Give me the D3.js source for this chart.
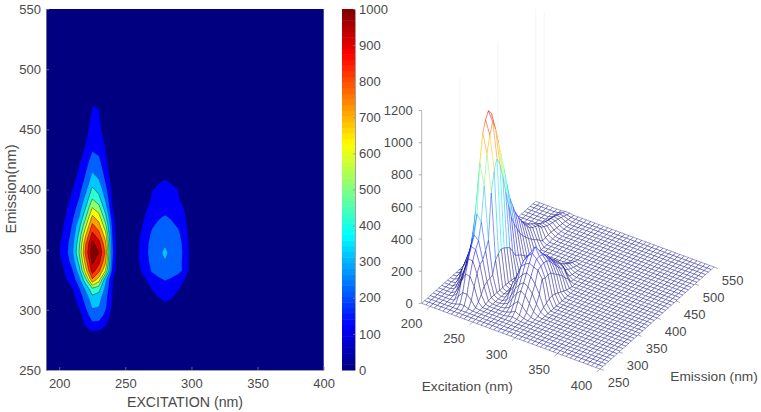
<!DOCTYPE html>
<html>
<head>
<meta charset="utf-8">
<title>Excitation-emission matrix</title>
<script src="https://cdn.jsdelivr.net/npm/d3@7/dist/d3.min.js"></script>
<style>
html,body{margin:0;padding:0;background:#fff;}
svg{display:block;}
text{font-family:"Liberation Sans",Arial,sans-serif;fill:#4a4a4a;}
</style>
</head>
<body>
<svg id="chart" width="761" height="412"></svg>
<script>
// Measurement grid: excitation every 5 nm, emission every 7.5 nm.
const excitation = d3.range(190, 400.1, 5);
const emission = d3.range(250, 550.1, 7.5);

// Tick labels and contour levels.
const excitationTicks = [200, 250, 300, 350, 400];
const emissionTicks = [250, 300, 350, 400, 450, 500, 550];
const colorbarTicks = [0, 100, 200, 300, 400, 500, 600, 700, 800, 900, 1000];
const heightTicks = [0, 200, 400, 600, 800, 1000, 1200];
const contourLevels = [100, 200, 300, 400, 500, 600, 700, 800, 900, 1000];

// Fluorescence intensity where the sample responds; the rest of the grid reads zero.
const blockExcitationStart = 195;
const blockEmissionStart = 272.5;
const intensityBlock = [
  [0,0,0,0,0,5,15,15,5,0,0, 0,0,0,0,0,0,0,0,0,0,0,0],
  [0,0,0,0,5,40,70,70,40,5,0, 0,0,0,0,0,0,0,0,0,0,0,0],
  [0,0,0,5,30,115,170,165,110,25,0, 0,0,0,0,0,5,10,5,0,0,0,0],
  [0,0,0,15,65,150,250,245,175,55,5, 0,0,0,0,5,15,30,15,5,0,0,0],
  [0,0,10,40,110,205,310,300,215,90,10, 0,0,0,5,20,50,75,55,25,5,0,0],
  [0,0,20,70,150,240,365,340,230,105,15, 0,0,5,20,60,100,125,105,65,25,5,0],
  [0,5,50,100,190,320,480,440,270,110,15, 0,0,15,50,105,140,160,145,110,55,15,0],
  [0,15,95,150,260,470,780,650,320,115,15, 0,5,50,95,150,185,205,190,155,100,30,0],
  [5,45,120,195,350,660,950,830,600,190,12, 0,10,85,135,210,235,250,235,225,180,40,0],
  [10,75,150,240,430,750,1020,930,720,215,12, 0,15,95,160,230,270,295,270,235,170,50,0],
  [15,95,170,280,500,830,1060,1000,780,230,15, 0,15,100,170,240,275,320,270,240,175,55,0],
  [12,90,160,265,470,790,1030,940,730,220,12, 0,15,95,165,235,270,290,265,235,170,50,0],
  [8,75,140,235,420,690,930,840,640,205,10, 0,10,85,150,215,245,255,245,220,150,40,0],
  [5,60,125,210,360,580,825,740,530,190,8, 0,5,70,125,190,215,225,215,190,130,30,0],
  [0,40,105,180,290,480,715,640,430,150,5, 0,0,50,105,165,190,205,190,165,110,20,0],
  [0,20,85,150,240,400,600,530,340,110,0, 0,0,30,80,135,160,172,160,135,90,10,0],
  [0,5,65,125,200,330,495,430,280,95,0, 0,0,10,50,110,135,148,135,110,60,5,0],
  [0,0,40,100,170,270,420,365,235,80,0, 0,0,0,35,95,115,125,115,98,40,0,0],
  [0,0,15,70,140,225,345,305,190,60,0, 0,0,0,5,45,90,103,90,45,5,0,0],
  [0,0,5,45,115,195,295,265,160,40,0, 0,0,0,0,15,45,75,45,15,0,0,0],
  [0,0,0,20,90,165,245,225,135,25,0, 0,0,0,0,8,30,55,30,8,0,0,0],
  [0,0,0,5,60,130,208,190,110,15,0, 0,0,0,0,5,20,40,20,5,0,0,0],
  [0,0,0,0,40,105,175,160,90,5,0, 0,0,0,0,0,12,25,12,0,0,0,0],
  [0,0,0,0,20,80,150,135,70,0,0, 0,0,0,0,0,5,15,5,0,0,0,0],
  [0,0,0,0,5,70,130,120,55,0,0, 0,0,0,0,0,0,8,0,0,0,0,0],
  [0,0,0,0,0,55,118,112,35,0,0, 0,0,0,0,0,0,0,0,0,0,0,0],
  [0,0,0,0,0,30,104,100,15,0,0, 0,0,0,0,0,0,0,0,0,0,0,0],
  [0,0,0,0,5,25,85,75,20,0,0, 0,0,0,0,0,0,0,0,0,0,0,0],
  [0,0,0,0,5,25,70,62,22,5,0, 0,0,0,0,0,0,0,0,0,0,0,0],
  [0,0,0,0,5,22,60,52,22,5,0, 0,0,0,0,0,0,0,0,0,0,0,0],
  [0,0,0,0,5,20,52,45,20,5,0, 0,0,0,0,0,0,0,0,0,0,0,0],
  [0,0,0,0,3,18,45,40,18,4,0, 0,0,0,0,0,0,0,0,0,0,0,0],
  [0,0,0,0,2,15,40,35,15,3,0, 0,0,0,0,0,0,0,0,0,0,0,0],
  [0,0,0,0,0,12,35,30,12,2,0, 0,0,0,0,0,0,0,0,0,0,0,0],
  [0,0,0,0,0,10,28,24,10,0,0, 0,0,0,0,0,0,0,0,0,0,0,0],
  [0,0,0,0,0,6,20,16,6,0,0, 0,0,0,0,0,0,0,0,0,0,0,0],
  [0,0,0,0,0,3,12,9,3,0,0, 0,0,0,0,0,0,0,0,0,0,0,0],
  [0,0,0,0,0,0,5,4,0,0,0, 0,0,0,0,0,0,0,0,0,0,0,0]
];

// Look up one grid node, falling back to zero outside the responding block.
function intensityAt(ex, em) {
  const row = intensityBlock[Math.round((em - blockEmissionStart) / 7.5)];
  if (!row) return 0;
  const v = row[Math.round((ex - blockExcitationStart) / 5)];
  return v === undefined ? 0 : v;
}

// MATLAB-style jet colormap, t in [0,1].
function jet(t) {
  t = Math.max(0, Math.min(1, t));
  const ramp = c => Math.round(255 * Math.max(0, Math.min(1, 1.5 - Math.abs(4 * t - c))));
  return `rgb(${ramp(3)},${ramp(2)},${ramp(1)})`;
}

const svg = d3.select("#chart");
const tickColor = "#8a8a8a";

/* ---------- Filled contour map ---------- */
const x = d3.scaleLinear().domain([190, 400]).range([46, 323.7]);
const y = d3.scaleLinear().domain([250, 550]).range([370, 9]);
const map = svg.append("g");

map.append("rect")
  .attr("x", x(190)).attr("y", y(550))
  .attr("width", x(400) - x(190)).attr("height", y(250) - y(550))
  .attr("fill", jet(0));

const flat = [];
emission.forEach(em => excitation.forEach(ex => flat.push(intensityAt(ex, em))));
const contours = d3.contours().size([excitation.length, emission.length]).thresholds(contourLevels)(flat);

// d3.contours places node i at i + 0.5; convert back to nm, then to pixels.
const contourPath = d3.geoPath(d3.geoTransform({
  point(gx, gy) {
    this.stream.point(x(190 + (gx - 0.5) * 5), y(250 + (gy - 0.5) * 7.5));
  }
}));
map.selectAll("path.level").data(contours).join("path")
  .attr("class", "level")
  .attr("d", contourPath)
  .attr("fill", d => jet((d.value + 20) / 1000))
  .attr("stroke", "#000")
  .attr("stroke-opacity", d => d.value >= 400 ? 0.65 : 0.2)
  .attr("stroke-width", 0.6);

function styleAxis(g) {
  g.selectAll(".domain").attr("stroke", tickColor).attr("stroke-width", 0.8);
  g.selectAll(".tick line").attr("stroke", tickColor).attr("stroke-width", 0.7);
  g.selectAll("text").attr("font-size", 13).style("font-family", '"Liberation Sans",Arial,sans-serif').attr("fill", "#4a4a4a");
}
map.append("g").attr("transform", `translate(0,${y(250)})`)
  .call(d3.axisBottom(x).tickValues(excitationTicks).tickSizeInner(-3).tickSizeOuter(0).tickPadding(9))
  .call(styleAxis);
map.append("g").attr("transform", `translate(${x(190)},0)`)
  .call(d3.axisLeft(y).tickValues(emissionTicks).tickSizeInner(-3).tickSizeOuter(0).tickPadding(5))
  .call(styleAxis);
map.append("text").attr("x", 185).attr("y", 406.5).attr("text-anchor", "middle")
  .attr("font-size", 14.2).text("EXCITATION (nm)");
map.append("text").attr("transform", "translate(15.5,189) rotate(-90)").attr("text-anchor", "middle")
  .attr("font-size", 14.6).text("Emission(nm)");

/* ---------- Colorbar ---------- */
const barScale = d3.scaleLinear().domain([0, 1000]).range([370, 9]);
const barSteps = d3.range(0, 1000, 1000 / 64);
const bar = svg.append("g");
bar.selectAll("rect").data(barSteps).join("rect")
  .attr("x", 342).attr("width", 13)
  .attr("y", d => barScale(d + 1000 / 64))
  .attr("height", d => barScale(d) - barScale(d + 1000 / 64) + 0.5)
  .attr("fill", d => jet(d / 1000 + 1 / 128));
bar.append("g").attr("transform", "translate(355,0)")
  .call(d3.axisRight(barScale).tickValues(colorbarTicks).tickFormat(d3.format("d")).tickSizeInner(-2).tickSizeOuter(0).tickPadding(4))
  .call(styleAxis);

/* ---------- Wireframe surface ---------- */
// Oblique view: each data axis contributes its own screen offset.
const exToX = d3.scaleLinear().domain([190, 400]).range([0, 178.3]);
const exToY = d3.scaleLinear().domain([190, 400]).range([0, 65.7]);
const emToX = d3.scaleLinear().domain([250, 550]).range([0, 114]);
const emToY = d3.scaleLinear().domain([250, 550]).range([0, -102]);
const zToY = d3.scaleLinear().domain([0, 1200]).range([0, -192.7]);
const originX = 421.7, originY = 303.3;
const project = (ex, em, z) => [
  originX + exToX(ex) + emToX(em),
  originY + exToY(ex) + emToY(em) + zToY(z)
];
const surface = svg.append("g");

// Wire colour stays navy along the foothills and only warms near the summit.
const wireColor = d3.scaleLinear().domain([150, 1100]).range([0, 1]).clamp(true);

// Faint wall grid behind the surface.
const wallLines = [[190, 350], [190, 450], [190, 550], [200, 550]];
surface.selectAll("line.wall").data(wallLines).join("line")
  .attr("class", "wall")
  .attr("x1", d => project(d[0], d[1], 0)[0]).attr("y1", d => project(d[0], d[1], 0)[1])
  .attr("x2", d => project(d[0], d[1], 1200)[0]).attr("y2", d => project(d[0], d[1], 1200)[1])
  .attr("stroke", "#f2f2f2").attr("stroke-width", 0.8);

// Faces run far to near so nearer cells hide what is behind them.
const faces = [];
for (let j = emission.length - 2; j >= 0; j--) {
  for (let i = 0; i < excitation.length - 1; i++) {
    const corners = [[i, j], [i + 1, j], [i + 1, j + 1], [i, j + 1]]
      .map(([a, b]) => [excitation[a], emission[b], intensityAt(excitation[a], emission[b])]);
    faces.push(corners);
  }
}
surface.selectAll("path.face").data(faces).join("path")
  .attr("class", "face")
  .attr("d", c => "M" + c.map(p => project(p[0], p[1], p[2]).map(v => v.toFixed(2)).join(",")).join("L") + "Z")
  .attr("fill", "#fff")
  .attr("stroke", c => jet(wireColor(d3.mean(c, p => p[2]))))
  .attr("stroke-opacity", 0.55)
  .attr("stroke-width", 0.7)
  .attr("stroke-linejoin", "round");

// Height axis.
surface.append("line")
  .attr("x1", originX).attr("y1", project(190, 250, 0)[1])
  .attr("x2", originX).attr("y2", project(190, 250, 1200)[1])
  .attr("stroke", "#b0b0b0").attr("stroke-width", 0.9);
const heightTick = surface.selectAll("g.height").data(heightTicks).join("g").attr("class", "height")
  .attr("transform", d => `translate(${originX},${project(190, 250, d)[1]})`);
heightTick.append("line").attr("x1", -3).attr("x2", 0).attr("stroke", tickColor).attr("stroke-width", 0.7);
heightTick.append("text").attr("x", -9).attr("dy", "0.35em").attr("text-anchor", "end").attr("font-size", 13).text(d => d);

// Excitation ticks along the near edge.
const exTick = surface.selectAll("g.extick").data(excitationTicks).join("g").attr("class", "extick")
  .attr("transform", d => `translate(${project(d, 250, 0)})`);
exTick.append("line").attr("x2", -3).attr("y2", 2.7).attr("stroke", tickColor).attr("stroke-width", 0.7);
exTick.append("text").attr("x", -18.5).attr("y", 16.6).attr("dy", "0.35em").attr("text-anchor", "middle").attr("font-size", 13).text(d => d);

// Emission ticks along the right edge.
const emTick = surface.selectAll("g.emtick").data(emissionTicks).join("g").attr("class", "emtick")
  .attr("transform", d => `translate(${project(400, d, 0)})`);
emTick.append("line").attr("x2", 3.8).attr("y2", 1.4).attr("stroke", tickColor).attr("stroke-width", 0.7);
emTick.append("text").attr("x", 18.7).attr("y", 13.7).attr("dy", "0.35em").attr("text-anchor", "middle").attr("font-size", 13).text(d => d);

surface.append("text").attr("x", 467.3).attr("y", 390.5).attr("text-anchor", "middle").attr("font-size", 13.7).text("Excitation (nm)");
surface.append("text").attr("x", 714).attr("y", 380.5).attr("text-anchor", "middle").attr("font-size", 13.7).text("Emission (nm)");
</script>
</body>
</html>
